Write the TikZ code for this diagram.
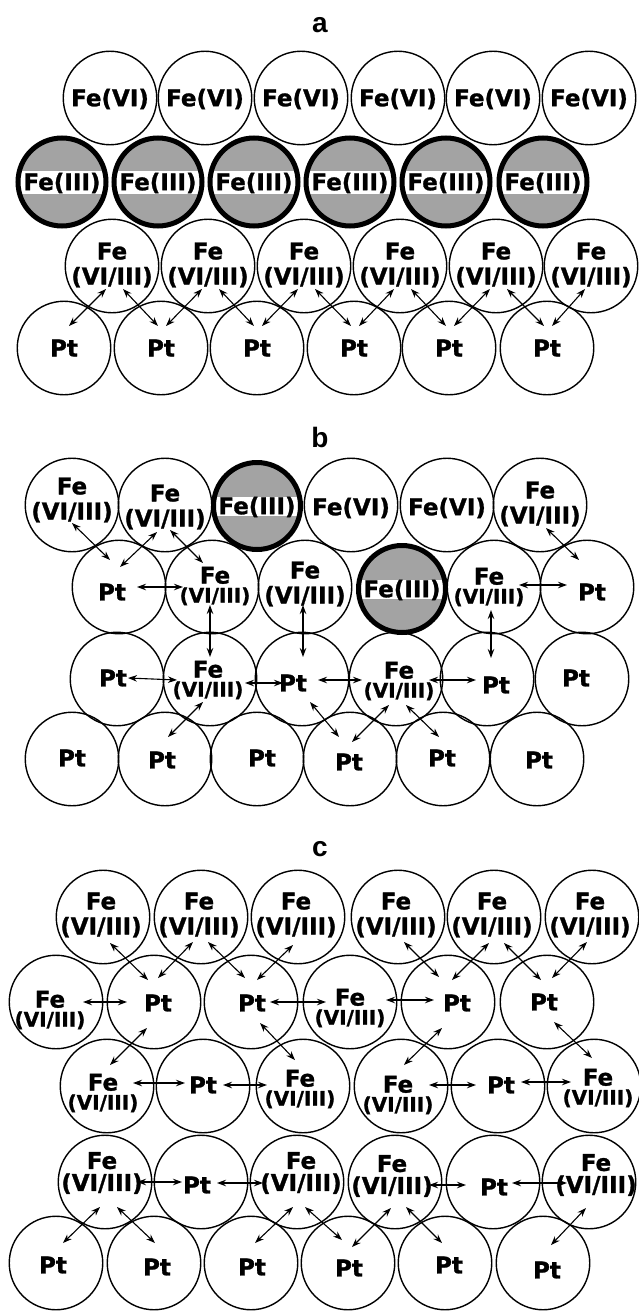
\documentclass[tikz,border=0pt]{standalone}
\usepackage{fontspec}
\newfontfamily\lblfont{DejaVu Sans}[BoldFeatures={FakeBold=1.2}]
\newfontfamily\capfont{Liberation Sans}
\usetikzlibrary{arrows.meta,calc}
\definecolor{fethree}{RGB}{163,163,163}
\begin{document}
\begin{tikzpicture}[x=1pt,y=-1pt,
  atom/.style={circle,draw,line width=1.4pt,minimum size=93.5pt,inner sep=0pt},
  fe3/.style={circle,draw,line width=5pt,fill=fethree,minimum size=88pt,inner sep=0pt,
    path picture={\fill[white] ([yshift=-#1]path picture bounding box.west) rectangle ([yshift=#1]path picture bounding box.east);}},
  fe3/.default=11.5pt,
  txt/.style={font=\lblfont\bfseries\fontsize{23}{25}\selectfont,align=center,inner sep=0pt},
  arr/.style={line width=1.1pt,{Stealth[length=9pt,width=6.5pt]}-{Stealth[length=9pt,width=6.5pt]}},
  paneltitle/.style={font=\capfont\bfseries\fontsize{28}{30}\selectfont,inner sep=0pt}]
\newcommand{\smfe}{Fe\\[-6pt]{\fontsize{20}{20}\selectfont(VI/III)}}
\useasboundingbox (0,0) rectangle (639,1311);
\fill[white] (0,0) rectangle (639,1311);

% ---------------- panel a ----------------
\node[paneltitle] (capa) at (320,25) {a};
\foreach \x [count=\i] in {110,205,301,398,493,589} \node[atom] (a1-\i) at (\x,98) {};
\foreach \x [count=\i] in {112,208,304,400,496,591} \node[atom] (a3-\i) at (\x,266) {};
\foreach \x [count=\i] in {64,161,257,354,449,547} \node[atom] (a4-\i) at (\x,348) {};
\foreach \x [count=\i] in {62,158,254,350,446,543} \node[fe3] (a2-\i) at (\x,182) {};
\foreach \i in {1,...,6} {
  \node[txt] (a1t\i) at ($(a1-\i)+(0,1)$) {Fe(VI)};
  \node[txt] (a2t\i) at ($(a2-\i)+(0,1)$) {Fe(III)};
  \node[txt] (a3t\i) at ($(a3-\i)+(0,-1)$) {Fe\\(VI/III)};
  \node[txt] (a4t\i) at (a4-\i) {Pt};
  \draw[arr] ($(a3-\i)+(-6,23)$) -- ($(a4-\i)+(5,-22)$);
}
\foreach \i [evaluate=\i as \j using int(\i+1)] in {1,...,5}
  \draw[arr] ($(a3-\i)+(11,23)$) -- ($(a4-\j)+(-3,-22)$);

% ---------------- panel b ----------------
\node[paneltitle] (capb) at (320,437) {b};
\foreach \x/\i in {72/1,165/2,351/4,447/5,540/6} \node[atom] (b1-\i) at (\x,505) {};
\foreach \x/\i in {119/1,212/2,305/3,494/5,587/6} \node[atom] (b2-\i) at (\x,587) {};
\foreach \x [count=\i] in {117,210,302,396,487,582} \node[atom] (b3-\i) at (\x,679) {};
\foreach \x [count=\i] in {72,165,257,350,443,537} \node[atom] (b4-\i) at (\x,759) {};
\node[fe3=9.5pt,minimum size=87pt] (b1-3) at (257,506) {};
\node[fe3=9.5pt,minimum size=87pt] (b2-4) at (402,589) {};

\node[txt] (b1t1) at (72,500) {Fe\\(VI/III)};
\node[txt] (b1t2) at (165,507) {Fe\\(VI/III)};
\node[txt] (b1t3) at (257,507) {Fe(III)};
\node[txt] (b1t4) at (351,508) {Fe(VI)};
\node[txt] (b1t5) at (447,508) {Fe(VI)};
\node[txt] (b1t6) at (540,504) {Fe\\(VI/III)};
\node[txt] (b2t1) at (112,592) {Pt};
\node[txt] (b2t2) at (215,586) {\smfe};
\node[txt] (b2t3) at (305,584) {Fe\\(VI/III)};
\node[txt] (b2t4) at (402,590) {Fe(III)};
\node[txt] (b2t5) at (489,587) {\smfe};
\node[txt] (b2t6) at (592,592) {Pt};
\node[txt] (b3t1) at (113,678) {Pt};
\node[txt] (b3t2) at (208,680) {\smfe};
\node[txt] (b3t3) at (293,683) {Pt};
\node[txt] (b3t4) at (399,681) {\smfe};
\node[txt] (b3t5) at (496,685) {Pt};
\node[txt] (b3t6) at (576,678) {Pt};
\foreach \x/\y [count=\i] in {72/758,162/760,262/758,349/762,442/758,539/760}
  \node[txt] (b4t\i) at (\x,\y) {Pt};

\draw[arr] ($(b1-1)+(0,18)$) -- ($(b2-1)+(-9,-27)$);
\draw[arr] ($(b1-2)+(-8,27)$) -- ($(b2-1)+(1,-20)$);
\draw[arr] ($(b1-2)+(5,25)$) -- ($(b2-2)+(-9,-24)$);
\draw[arr] ($(b2-1)+(18,0)$) -- ($(b2-2)+(-29,0)$);
\draw[arr] ($(b2-2)+(-2,18)$) -- ($(b3-2)+(0,-22)$);
\draw[arr] ($(b2-3)+(-2,18)$) -- ($(b3-3)+(1,-22)$);
\draw[arr] ($(b3-1)+(11,-1)$) -- ($(b3-2)+(-33,1)$);
\draw[arr] ($(b3-2)+(35,4)$) -- ($(b3-3)+(-19,4)$);
\draw[arr] ($(b3-2)+(-7,23)$) -- ($(b4-2)+(3,-22)$);
\draw[arr] ($(b3-3)+(8,23)$) -- ($(b4-4)+(-11,-22)$);
\draw[arr] ($(b3-3)+(16,1)$) -- ($(b3-4)+(-34,1)$);
\draw[arr] ($(b3-4)+(33,1)$) -- ($(b3-5)+(-11,1)$);
\draw[arr] ($(b3-4)+(-7,26)$) -- ($(b4-4)+(2,-17)$);
\draw[arr] ($(b3-4)+(10,26)$) -- ($(b4-5)+(-4,-22)$);
\draw[arr] ($(b2-5)+(-3,23)$) -- ($(b3-5)+(4,-21)$);
\draw[arr] ($(b2-5)+(25,-2)$) -- ($(b2-6)+(-20,-2)$);
\draw[arr] ($(b1-6)+(6,23)$) -- ($(b2-6)+(-8,-27)$);

% ---------------- panel c ----------------
\node[paneltitle] (capc) at (320,849) {c};
\foreach \x [count=\i] in {103,201,298,398,494,592} \node[atom] (c1-\i) at (\x,917) {};
\foreach \x [count=\i] in {56,154,251,350,448,547} \node[atom] (c2-\i) at (\x,1002) {};
\foreach \x [count=\i] in {107,203,303,401,498,594} \node[atom] (c3-\i) at (\x,1086) {};
\foreach \x [count=\i] in {105,201,297,395,493,589} \node[atom] (c4-\i) at (\x,1182) {};
\foreach \x [count=\i] in {56,154,251,348,445,543} \node[atom] (c5-\i) at (\x,1263) {};

\foreach \i in {1,...,6} \node[txt] (c1t\i) at ($(c1-\i)+(-2,-2)$) {Fe\\(VI/III)};
\node[txt] (c2t1) at (50,1010) {\smfe};
\node[txt] (c2t2) at (158,1003) {Pt};
\node[txt] (c2t3) at (252,1003) {Pt};
\node[txt] (c2t4) at (350,1008) {\smfe};
\node[txt] (c2t5) at (457,1003) {Pt};
\node[txt] (c2t6) at (544,1002) {Pt};
\node[txt] (c3t1) at (103,1093) {\smfe};
\node[txt] (c3t2) at (203,1085) {Pt};
\node[txt] (c3t3) at (300,1089) {\smfe};
\node[txt] (c3t4) at (398,1095) {\smfe};
\node[txt] (c3t5) at (501,1085) {Pt};
\node[txt] (c3t6) at (598,1088) {\smfe};
\node[txt] (c4t1) at (102,1173) {Fe\\[-3pt](VI/III)};
\node[txt] (c4t2) at (197,1185) {Pt};
\node[txt] (c4t3) at (301,1173) {Fe\\[-3pt](VI/III)};
\node[txt] (c4t4) at (392,1176) {Fe\\[-3pt](VI/III)};
\node[txt] (c4t5) at (494,1187) {Pt};
\node[txt] (c4t6) at (596,1175) {Fe\\[-3pt](VI/III)};
\foreach \x/\y [count=\i] in {53/1265,157/1267,252/1267,349/1268,449/1265,547/1270}
  \node[txt] (c5t\i) at (\x,\y) {Pt};

\draw[arr] ($(c1-1)+(7,26)$) -- ($(c2-2)+(-6,-22)$);
\draw[arr] ($(c1-2)+(-8,25)$) -- ($(c2-2)+(4,-24)$);
\draw[arr] ($(c1-2)+(7,25)$) -- ($(c2-3)+(-6,-24)$);
\draw[arr] ($(c1-3)+(-5,28)$) -- ($(c2-3)+(6,-22)$);
\draw[arr] ($(c1-4)+(6,25)$) -- ($(c2-5)+(-9,-25)$);
\draw[arr] ($(c1-5)+(-5,26)$) -- ($(c2-5)+(4,-22)$);
\draw[arr] ($(c1-5)+(10,26)$) -- ($(c2-6)+(-6,-22)$);
\draw[arr] ($(c1-6)+(-5,25)$) -- ($(c2-6)+(5,-24)$);
\draw[arr] ($(c2-1)+(27,0)$) -- ($(c2-2)+(-27,0)$);
\draw[arr] ($(c2-3)+(19,0)$) -- ($(c2-4)+(-24,0)$);
\draw[arr] ($(c2-4)+(36,-2)$) -- ($(c2-5)+(-14,-2)$);
\draw[arr] ($(c2-2)+(-7,26)$) -- ($(c3-1)+(3,-21)$);
\draw[arr] ($(c2-3)+(9,21)$) -- ($(c3-3)+(-8,-26)$);
\draw[arr] ($(c2-5)+(-6,26)$) -- ($(c3-4)+(3,-21)$);
\draw[arr] ($(c2-6)+(7,20)$) -- ($(c3-6)+(-2,-28)$);
\draw[arr] ($(c3-1)+(26,-3)$) -- ($(c3-2)+(-18,-3)$);
\draw[arr] ($(c3-2)+(20,-1)$) -- ($(c3-3)+(-36,-1)$);
\draw[arr] ($(c3-4)+(28,-1)$) -- ($(c3-5)+(-22,-1)$);
\draw[arr] ($(c3-5)+(23,-4)$) -- ($(c3-6)+(-23,-4)$);
\draw[arr] ($(c4-1)+(32,0)$) -- ($(c4-2)+(-19,0)$);
\draw[arr] ($(c4-2)+(16,1)$) -- ($(c4-3)+(-34,1)$);
\draw[arr] ($(c4-4)+(34,3)$) -- ($(c4-5)+(-27,3)$);
\draw[arr] ($(c4-5)+(19,1)$) -- ($(c4-6)+(-22,1)$);
\draw[arr] ($(c4-1)+(-5,25)$) -- ($(c5-1)+(7,-20)$);
\draw[arr] ($(c4-1)+(12,25)$) -- ($(c5-2)+(1,-20)$);
\draw[arr] ($(c4-3)+(-4,25)$) -- ($(c5-3)+(4,-20)$);
\draw[arr] ($(c4-3)+(8,25)$) -- ($(c5-4)+(-6,-23)$);
\draw[arr] ($(c4-4)+(-4,26)$) -- ($(c5-4)+(4,-16)$);
\draw[arr] ($(c4-4)+(11,25)$) -- ($(c5-5)+(-3,-20)$);
\draw[arr] ($(c4-6)+(-3,26)$) -- ($(c5-6)+(8,-18)$);
\end{tikzpicture}
\end{document}
